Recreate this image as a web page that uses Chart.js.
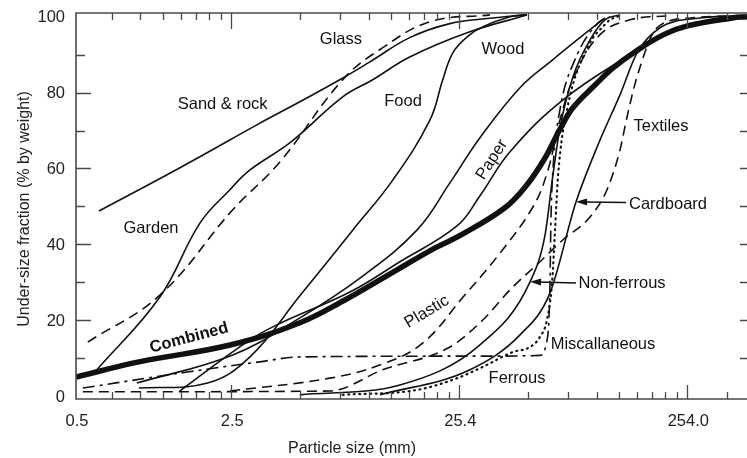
<!DOCTYPE html>
<html>
<head>
<meta charset="utf-8">
<script src="https://cdn.jsdelivr.net/npm/chart.js@4.4.1/dist/chart.umd.min.js"></script>
<style>
html, body { margin: 0; padding: 0; background: #fff; }
#wrap { width: 747px; height: 458px; }
</style>
</head>
<body>
<div id="wrap"><canvas id="chart" width="747" height="458"></canvas></div>
<script>
// Particle size (mm, log axis) vs under-size fraction (% by weight)

const sandX = [0.668, 1.117, 1.852, 3.29, 5.08, 7.6, 10.3, 15.4, 23.1, 34.6, 50.3]
const sandY = [48.8, 55.9, 63.1, 71.5, 77.6, 83.4, 88.1, 94.5, 98.2, 99.6, 100.5]

const gardenX = [0.641, 1.236, 1.852, 2.507, 3.07, 4.60, 7.83, 10.6, 15.4, 27.5, 50.3]
const gardenY = [6.3, 26.1, 45.6, 54.4, 59.6, 66.8, 78.9, 83.4, 89.4, 95.8, 100.5]

const glassX = [0.597, 1.236, 2.58, 4.15, 7.83, 11.7, 18.9, 34.6]
const glassY = [14.2, 26.6, 49.1, 61.7, 83.4, 91.8, 98.7, 100.5]

const foodX = [1.0, 2.0, 3.07, 5.08, 8.68, 13.0, 18.9, 21.5, 23.8, 27.5, 32.3, 42.4, 49.3]
const foodY = [2.1, 3.4, 10.3, 26.4, 43.8, 57.0, 72.8, 83.4, 90.5, 94.7, 97.4, 100.0, 100.5]

const woodX = [0.98, 2.58, 5.08, 9.32, 16.6, 23.1, 31.3, 46.9, 65.4, 85.9, 110.6]
const woodY = [3.4, 10.8, 20.6, 31.1, 43.8, 56.2, 68.1, 81.3, 88.7, 94.5, 99.7]

const paperX = [1.51, 3.07, 4.28, 8.42, 13.95, 24.9, 31.3, 42.4, 72.4, 146.8, 207, 289, 455]
const paperY = [1.3, 14.8, 19.5, 27.4, 35.4, 44.9, 52.8, 64.4, 78.1, 90.5, 95.8, 98.7, 100.3]

const combinedX = [0.53, 1.0, 2.54, 5.08, 8.0, 12.0, 20.0, 25.4, 40, 50, 60, 70, 80, 100, 120, 150, 200, 254, 400, 464]
const combinedY = [5.0, 9.0, 13.5, 19.3, 25.3, 31.4, 39.1, 42.2, 49.5, 55.5, 62.5, 70.2, 76.0, 82.0, 86.5, 90.8, 95.3, 97.6, 99.7, 100.0]

const nonFerrousX = [5.08, 13.95, 31.3, 51.9, 60.4, 65.4, 70.2, 80.1, 95.1, 110.6, 128.7]
const nonFerrousY = [0.3, 2.9, 13.5, 30.1, 42.5, 58.3, 70.7, 84.2, 93.9, 99.2, 100.5]

const cardboardX = [11.4, 28.3, 46.9, 63.5, 82.6, 105.2, 128.7, 152.9, 192.8, 289, 455]
const cardboardY = [0.3, 6.9, 16.1, 27.2, 51.2, 67.5, 79.4, 90.5, 97.1, 99.7, 100.3]

const textilesX = [0.568, 6.88, 11.7, 23.1, 32.3, 42.4, 57.4, 72.4, 95.1, 112.9, 128.7, 138.2, 152.9, 187, 261, 455]
const textilesY = [1.1, 1.3, 6.9, 12.9, 20.1, 28.0, 35.4, 41.2, 47.2, 54.4, 64.9, 73.6, 84.2, 97.1, 99.7, 100.3]

const plasticX = [2.51, 6.88, 11.7, 17.6, 26.4, 37.2, 53.5, 62.2, 70.2, 81.7, 105.2, 142.4, 213]
const plasticY = [1.3, 4.7, 8.4, 14.0, 26.1, 36.7, 49.9, 59.6, 72.8, 84.7, 95.3, 99.2, 100.3]

const miscX = [0.568, 1.624, 3.39, 5.08, 30, 57.4, 61.0, 62.8, 63.5, 64.1, 65.4, 70.2, 81.7, 103.1, 116.4]
const miscY = [2.1, 6.3, 9.0, 10.3, 10.5, 10.7, 13.5, 20.1, 30.6, 46.4, 59.6, 75.5, 88.7, 98.4, 100.0]

const ferrousX = [7.83, 16.6, 24.9, 32.3, 43.7, 51.9, 57.4, 61.6, 64.8, 66.8, 68.8, 75.4, 95.1, 108.4, 116.4, 128.7]
const ferrousY = [0.3, 1.6, 4.7, 7.7, 11.6, 12.9, 15.6, 20.1, 29.8, 43.8, 57.8, 75.5, 93.1, 97.4, 99.2, 100.3]

// axis ticks (sizes are 0.02 .. 15 in, shown in mm)
const xTickValues = [0.53, 2.54, 25.4, 254]
const xTickLabels = ["0.5", "2.5", "25.4", "254.0"]
const xMajorTicks = [2.54, 25.4, 254]
const xMinorTicks = [0.762, 1.016, 1.27, 1.524, 1.778, 2.032, 2.286,
  5.08, 7.62, 10.16, 12.7, 15.24, 17.78, 20.32, 22.86,
  50.8, 76.2, 101.6, 127, 152.4, 177.8, 203.2, 228.6, 381]
const yTickValues = [0, 20, 40, 60, 80, 100]
const yMinorTicks = [10, 30, 50, 70, 90]
const yRightTicks = [10, 20, 30, 40, 50, 60, 70, 80, 90]

// curve names written on the plot
const curveLabels = [
  { text: "Sand & rock", x: 2.33, y: 76.8 },
  { text: "Glass", x: 7.69, y: 93.9 },
  { text: "Food", x: 14.4, y: 77.6 },
  { text: "Wood", x: 39.5, y: 91.3 },
  { text: "Textiles", x: 194.7, y: 71.0 },
  { text: "Paper", x: 35.3, y: 62.3, rot: -57 },
  { text: "Cardboard", x: 209, y: 50.4 },
  { text: "Garden", x: 1.13, y: 44.3 },
  { text: "Non-ferrous", x: 131.4, y: 29.8 },
  { text: "Plastic", x: 18.3, y: 22.2, rot: -31 },
  { text: "Combined", x: 1.66, y: 15.3, rot: -15, bold: true },
  { text: "Miscallaneous", x: 108.4, y: 13.5 },
  { text: "Ferrous", x: 45.5, y: 4.5 }
]

const arrows = [
  { fromX: 136.8, fromY: 51.0, toX: 82.6, toY: 51.2 },
  { fromX: 82.6, fromY: 29.8, toX: 51.9, toY: 30.1 }
]

const FONT = '"Liberation Sans", Arial, sans-serif'
const INK = "#111"

function series(xs, ys){
  return xs.map((v, i) => ({ x: v, y: ys[i] }))
}

function curve(name, xs, ys, extra){
  return Object.assign({
    label: name,
    data: series(xs, ys),
    borderColor: INK,
    borderWidth: 1.6,
    tension: 0.4,
    fill: false
  }, extra || {})
}

const dash = [10, 6]
// sharp bends keep the monotone spline so they do not overshoot
const bend = { cubicInterpolationMode: "monotone" }

const datasets = [
  curve("Sand & rock", sandX, sandY),
  curve("Garden", gardenX, gardenY),
  curve("Glass", glassX, glassY, { borderDash: dash }),
  curve("Food", foodX, foodY),
  curve("Wood", woodX, woodY),
  curve("Paper", paperX, paperY),
  curve("Non-ferrous", nonFerrousX, nonFerrousY, bend),
  curve("Cardboard", cardboardX, cardboardY, bend),
  curve("Textiles", textilesX, textilesY, Object.assign({ borderDash: dash }, bend)),
  curve("Plastic", plasticX, plasticY, { borderDash: dash }),
  curve("Miscallaneous", miscX, miscY, Object.assign({ borderDash: [12, 5, 3, 5] }, bend)),
  curve("Ferrous", ferrousX, ferrousY, Object.assign({ borderDash: [1, 4.5], borderWidth: 2.2, borderCapStyle: "round" }, bend)),
  curve("Combined", combinedX, combinedY, { borderWidth: 5.5 })
]

// frame, inward ticks, tick labels, titles and curve names
const frame = {
  id: "frame",
  afterDatasetsDraw(chart){
    const { ctx, chartArea: a, scales: { x, y } } = chart
    ctx.save()

    ctx.strokeStyle = "#4a4a4a"
    ctx.lineWidth = 1.6
    ctx.beginPath()
    ctx.moveTo(a.right, a.top)
    ctx.lineTo(a.left, a.top)
    ctx.lineTo(a.left, a.bottom)
    ctx.lineTo(a.right, a.bottom)
    ctx.stroke()

    ctx.lineWidth = 1.3
    ctx.beginPath()
    xMinorTicks.forEach(v => {
      const px = Math.round(x.getPixelForValue(v)) + 0.5
      ctx.moveTo(px, a.top); ctx.lineTo(px, a.top + 7)
      ctx.moveTo(px, a.bottom); ctx.lineTo(px, a.bottom - 7)
    })
    xMajorTicks.forEach(v => {
      const px = Math.round(x.getPixelForValue(v)) + 0.5
      ctx.moveTo(px, a.top); ctx.lineTo(px, a.top + 16)
      ctx.moveTo(px, a.bottom); ctx.lineTo(px, a.bottom - 14)
    })
    yTickValues.forEach(v => {
      const py = Math.round(y.getPixelForValue(v)) + 0.5
      if (v === 0 || v === 100) return
      ctx.moveTo(a.left, py); ctx.lineTo(a.left + 15, py)
    })
    yMinorTicks.forEach(v => {
      const py = Math.round(y.getPixelForValue(v)) + 0.5
      ctx.moveTo(a.left, py); ctx.lineTo(a.left + 9, py)
    })
    yRightTicks.forEach(v => {
      const py = Math.round(y.getPixelForValue(v)) + 0.5
      ctx.moveTo(a.right, py); ctx.lineTo(a.right - 7, py)
    })
    ctx.stroke()

    ctx.fillStyle = "#222"
    ctx.font = "16.5px " + FONT
    ctx.textAlign = "right"
    ctx.textBaseline = "middle"
    yTickValues.forEach(v => {
      ctx.fillText(String(v), a.left - 11, y.getPixelForValue(v) + 1)
    })
    ctx.textAlign = "center"
    xTickValues.forEach((v, i) => {
      ctx.fillText(xTickLabels[i], x.getPixelForValue(v) + 1, a.bottom + 22)
    })

    ctx.font = "16px " + FONT
    ctx.fillText("Particle size (mm)", 352, a.bottom + 50)
    ctx.save()
    ctx.translate(25, 209)
    ctx.rotate(-Math.PI / 2)
    ctx.fillText("Under-size fraction (% by weight)", 0, 0)
    ctx.restore()

    ctx.fillStyle = INK
    curveLabels.forEach(l => {
      ctx.save()
      ctx.translate(x.getPixelForValue(l.x), y.getPixelForValue(l.y))
      if (l.rot) ctx.rotate(l.rot * Math.PI / 180)
      ctx.font = (l.bold ? "bold 16.5px " : "16.5px ") + FONT
      ctx.fillText(l.text, 0, 0)
      ctx.restore()
    })

    ctx.strokeStyle = INK
    ctx.lineWidth = 1.5
    arrows.forEach(ar => {
      const x0 = x.getPixelForValue(ar.fromX), y0 = y.getPixelForValue(ar.fromY)
      const x1 = x.getPixelForValue(ar.toX), y1 = y.getPixelForValue(ar.toY)
      const ang = Math.atan2(y1 - y0, x1 - x0)
      ctx.beginPath()
      ctx.moveTo(x0, y0)
      ctx.lineTo(x1 - 8 * Math.cos(ang), y1 - 8 * Math.sin(ang))
      ctx.stroke()
      ctx.beginPath()
      ctx.moveTo(x1, y1)
      ctx.lineTo(x1 - 11 * Math.cos(ang) + 3.5 * Math.sin(ang), y1 - 11 * Math.sin(ang) - 3.5 * Math.cos(ang))
      ctx.lineTo(x1 - 11 * Math.cos(ang) - 3.5 * Math.sin(ang), y1 - 11 * Math.sin(ang) + 3.5 * Math.cos(ang))
      ctx.closePath()
      ctx.fill()
    })

    ctx.restore()
  }
}

new Chart(document.getElementById("chart"), {
  type: "line",
  data: { datasets },
  options: {
    responsive: false,
    animation: false,
    layout: { padding: { left: 76, top: 13, right: 0, bottom: 59 } },
    plugins: { legend: { display: false }, tooltip: { enabled: false } },
    elements: {
      point: { radius: 0 },
      line: { borderJoinStyle: "round" }
    },
    scales: {
      x: { type: "logarithmic", min: 0.53, max: 464, display: false },
      y: { type: "linear", min: -0.8, max: 101, display: false }
    }
  },
  plugins: [frame]
})
</script>
</body>
</html>
